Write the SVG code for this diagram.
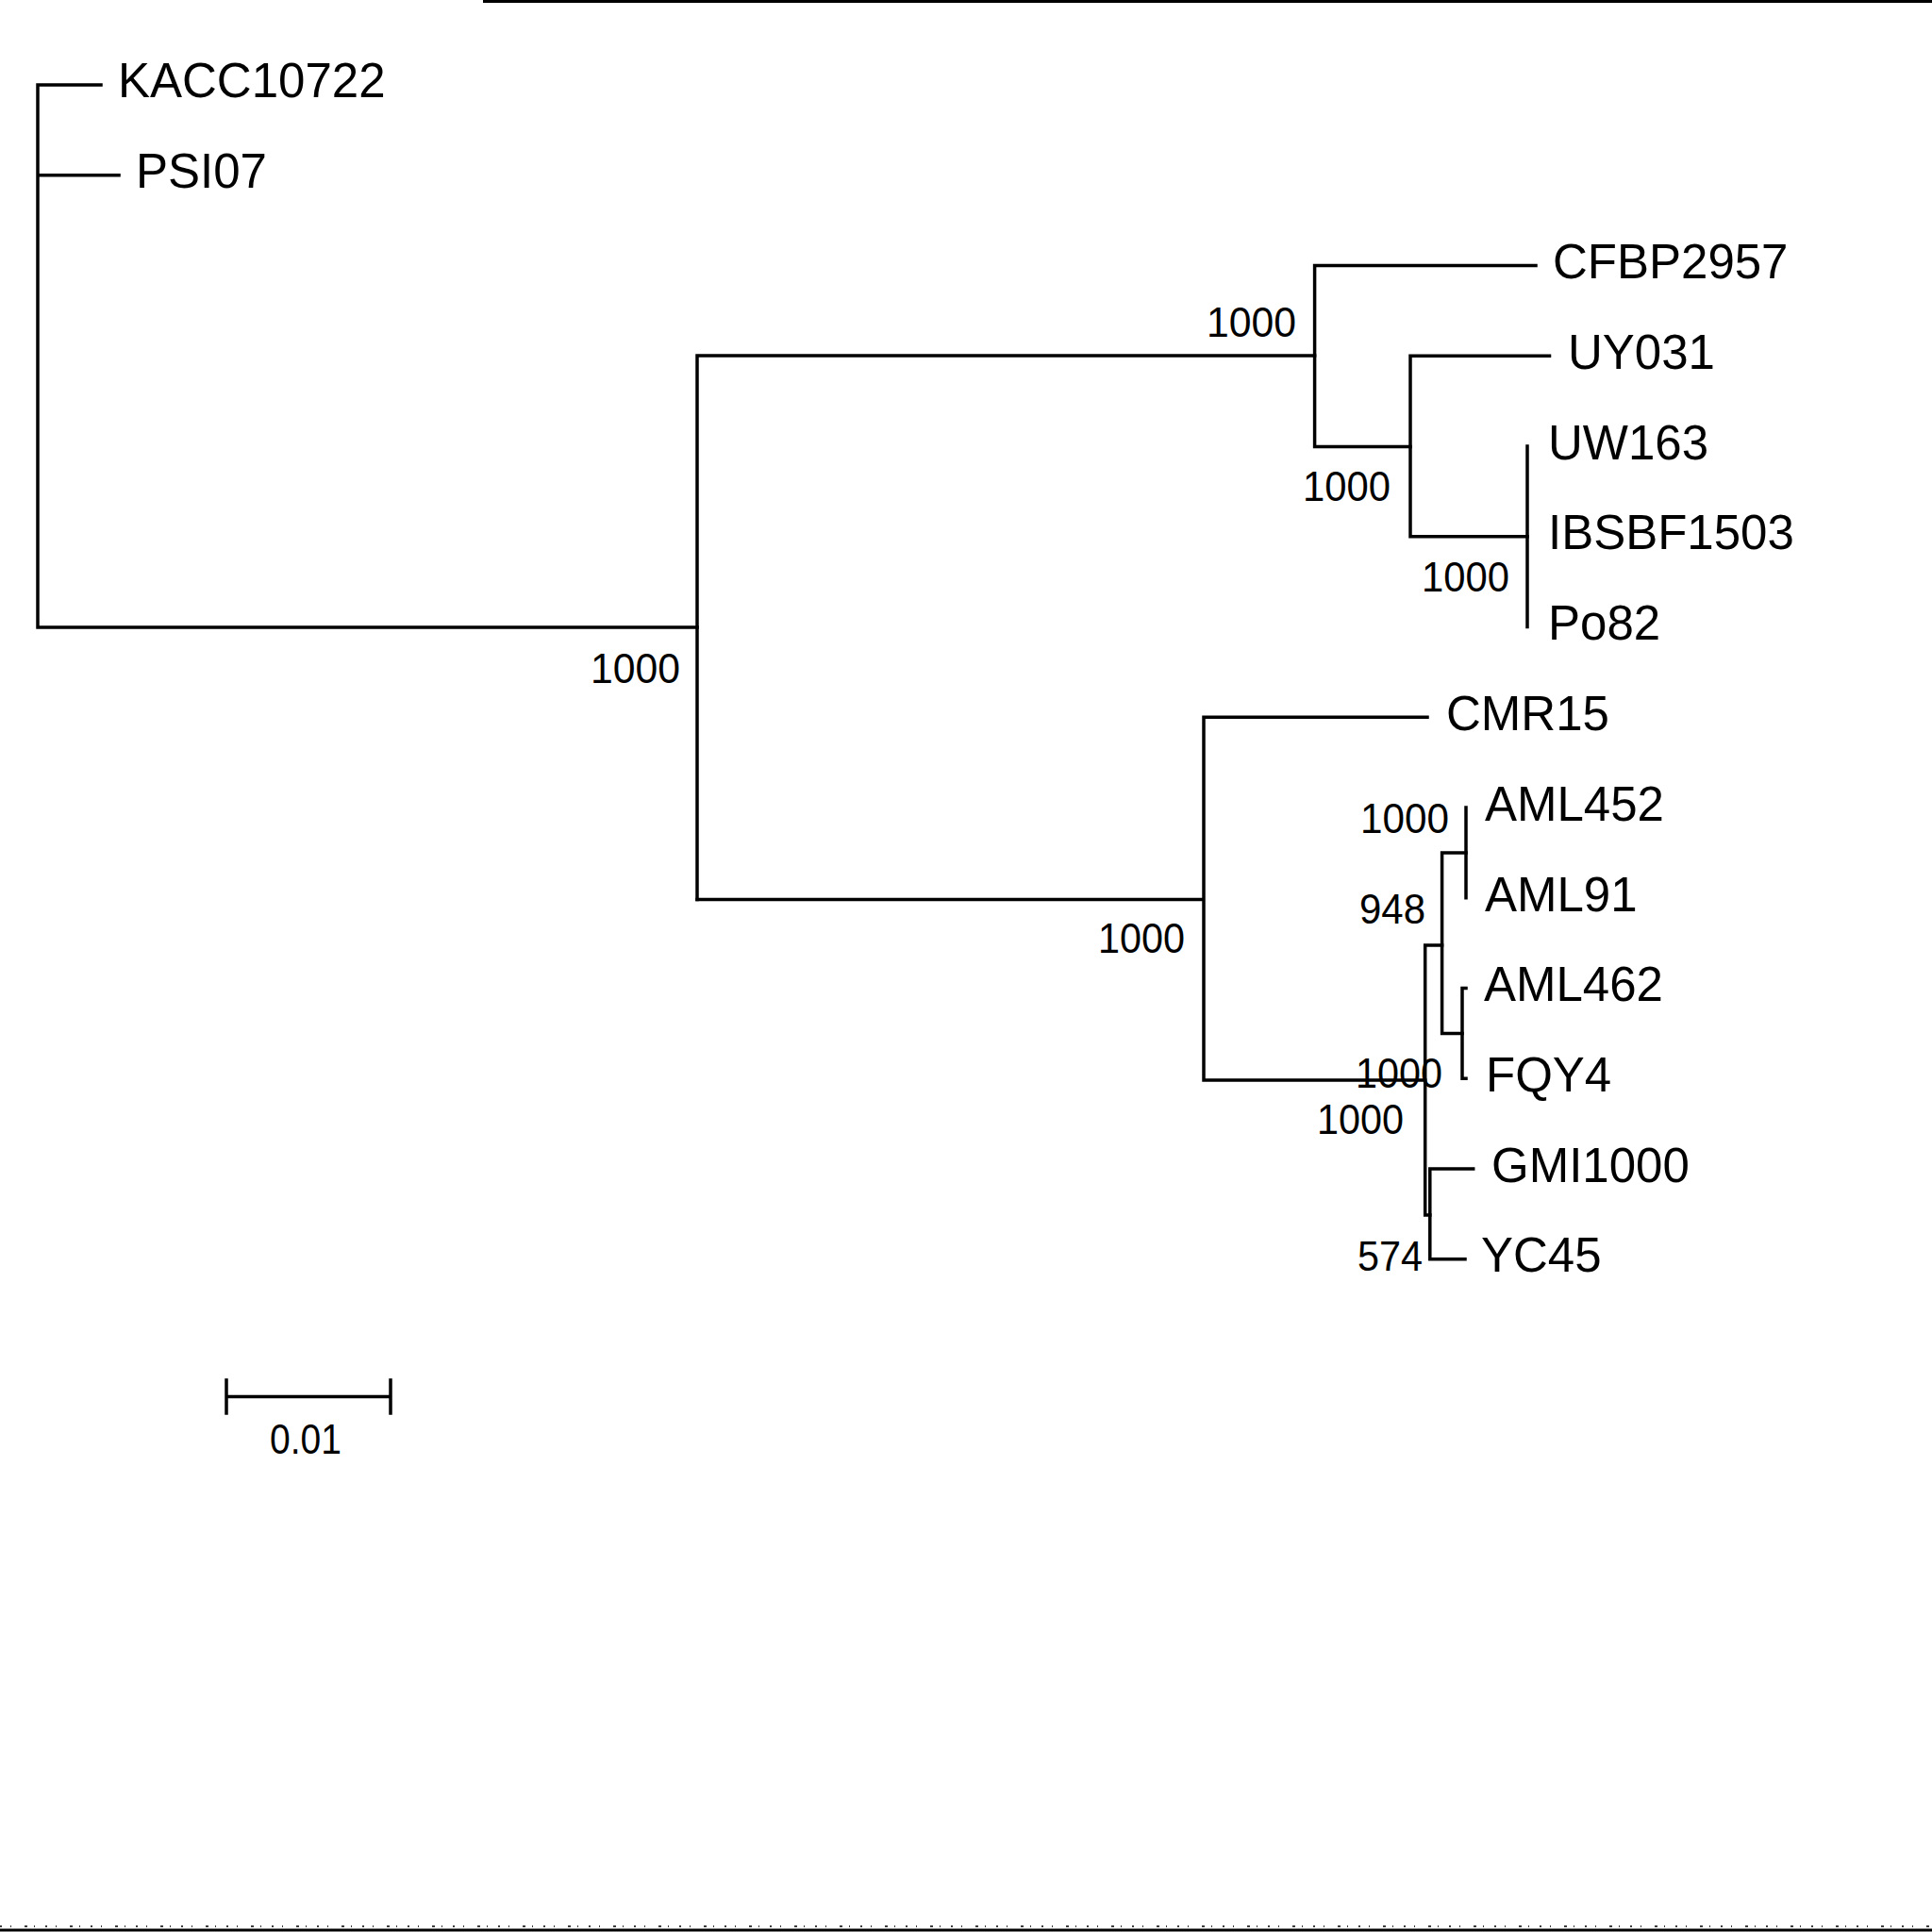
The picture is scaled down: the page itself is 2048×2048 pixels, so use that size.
<svg xmlns="http://www.w3.org/2000/svg" width="2048" height="2048" viewBox="0 0 2048 2048">
<style>
.br{fill:none;stroke:#000;stroke-width:3.5;stroke-linecap:square}
.leaf{font-family:"Liberation Sans",Arial,sans-serif;font-size:51px;fill:#000}
.bs{font-family:"Liberation Sans",Arial,sans-serif;font-size:45px;fill:#000;text-anchor:end}
</style>
<rect width="2048" height="2048" fill="#fff"/>
<line x1="512" y1="1.5" x2="2048" y2="1.5" stroke="#000" stroke-width="3"/>
<line x1="0" y1="2046" x2="2048" y2="2046" stroke="#000" stroke-width="3"/>
<line x1="0" y1="2042" x2="2048" y2="2042" stroke="#000" stroke-width="1.5" stroke-dasharray="2 9 1 14 3 7 1 11"/>
<g id="connectors" class="br">
<path d="M40,90 V665 M40,90 H107 M40,185.75 H126 M40,665 H739"/>
<path d="M739,377 V953.5 M739,377 H1393.6"/>
<path d="M1393.6,281.5 V473.5 M1393.6,281.5 H1628 M1393.6,473.5 H1495"/>
<path d="M1495,377.25 V568.75 M1495,377.25 H1642.5 M1495,568.75 H1619"/>
<path d="M1619,473 V664.5"/>
<path d="M739,953.5 H1276 M1276,760.25 V1145 M1276,760.25 H1513 M1276,1145 H1510.7"/>
<path d="M1510.7,1002 V1288 M1510.7,1002 H1528.6 M1510.7,1288 H1515.8"/>
<path d="M1528.6,904 V1095.5 M1528.6,904 H1554 M1528.6,1095.5 H1550"/>
<path d="M1554,856 V951.75"/>
<path d="M1550,1047.5 V1143.25 M1550,1047.5 H1554 M1550,1143.25 H1554"/>
<path d="M1515.8,1239 V1334.75 M1515.8,1239 H1561.7 M1515.8,1334.75 H1553"/>
<path d="M240,1480.5 H414 M240,1463 V1498 M414,1463 V1498"/>
</g>
<g id="leaf-KACC10722"><text class="leaf" x="125" y="103">KACC10722</text></g>
<g id="leaf-PSI07"><text class="leaf" x="144" y="199">PSI07</text></g>
<g id="leaf-CFBP2957"><text class="leaf" x="1646" y="295">CFBP2957</text></g>
<g id="leaf-UY031"><text class="leaf" x="1662" y="391">UY031</text></g>
<g id="leaf-UW163"><text class="leaf" x="1641" y="487">UW163</text></g>
<g id="leaf-IBSBF1503"><text class="leaf" x="1641" y="582">IBSBF1503</text></g>
<g id="leaf-Po82"><text class="leaf" x="1641" y="678">Po82</text></g>
<g id="leaf-CMR15"><text class="leaf" x="1533" y="774">CMR15</text></g>
<g id="leaf-AML452"><text class="leaf" x="1574" y="870">AML452</text></g>
<g id="leaf-AML91"><text class="leaf" x="1574" y="966">AML91</text></g>
<g id="leaf-AML462"><text class="leaf" x="1573" y="1061">AML462</text></g>
<g id="leaf-FQY4"><text class="leaf" x="1575" y="1157">FQY4</text></g>
<g id="leaf-GMI1000"><text class="leaf" x="1581" y="1253">GMI1000</text></g>
<g id="leaf-YC45"><text class="leaf" x="1570" y="1348">YC45</text></g>
<g id="bootstrap">
<text class="bs" x="721" y="724" textLength="95" lengthAdjust="spacingAndGlyphs">1000</text>
<text class="bs" x="1374" y="357" textLength="95" lengthAdjust="spacingAndGlyphs">1000</text>
<text class="bs" x="1474" y="531" textLength="93" lengthAdjust="spacingAndGlyphs">1000</text>
<text class="bs" x="1600" y="627" textLength="93" lengthAdjust="spacingAndGlyphs">1000</text>
<text class="bs" x="1256" y="1010" textLength="92" lengthAdjust="spacingAndGlyphs">1000</text>
<text class="bs" x="1536" y="883" textLength="94" lengthAdjust="spacingAndGlyphs">1000</text>
<text class="bs" x="1511" y="979" textLength="70" lengthAdjust="spacingAndGlyphs">948</text>
<text class="bs" x="1529" y="1153" textLength="92" lengthAdjust="spacingAndGlyphs">1000</text>
<text class="bs" x="1488" y="1202" textLength="92" lengthAdjust="spacingAndGlyphs">1000</text>
<text class="bs" x="1508" y="1347" textLength="69" lengthAdjust="spacingAndGlyphs">574</text>
</g>
<g id="scale-label"><text class="bs" x="362" y="1541" textLength="76" lengthAdjust="spacingAndGlyphs">0.01</text></g>
</svg>
